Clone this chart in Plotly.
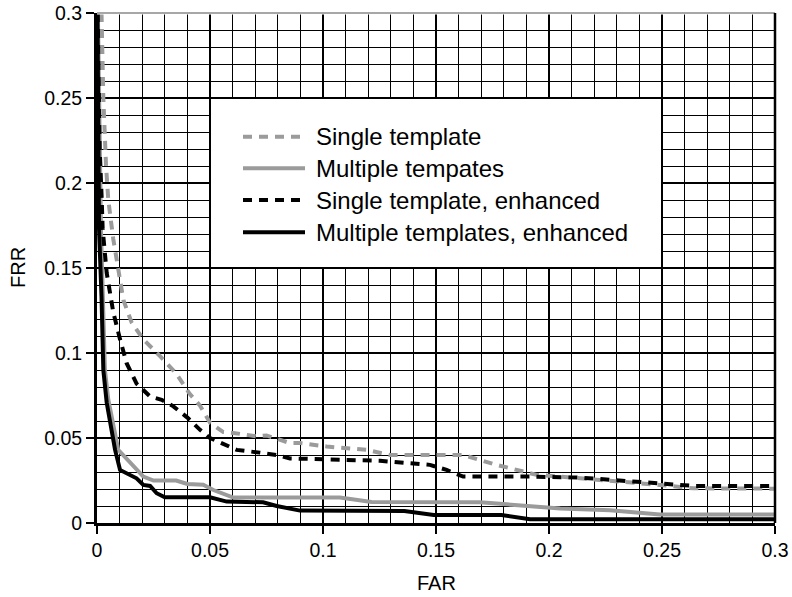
import plotly.graph_objects as go

# ---- data ----
single_x = [0.0020, 0.0028, 0.0040, 0.0050, 0.0072, 0.0094, 0.0117, 0.0153, 0.0205, 0.0280,
            0.0350, 0.0410, 0.0456, 0.0500, 0.0559, 0.0603, 0.0706, 0.0750, 0.0854, 0.0900,
            0.1016, 0.1193, 0.1296, 0.1620, 0.1768, 0.1945, 0.2049, 0.2137, 0.2490, 0.2640, 0.3000]
single_y = [0.300, 0.250, 0.210, 0.190, 0.167, 0.149, 0.131, 0.118, 0.108, 0.098,
            0.088, 0.076, 0.069, 0.059, 0.0535, 0.053, 0.051, 0.0515, 0.047, 0.047,
            0.045, 0.043, 0.040, 0.040, 0.0342, 0.0283, 0.0273, 0.0263, 0.0224, 0.0204, 0.0202]

multi_x = [0.0004, 0.0012, 0.0018, 0.0035, 0.0050, 0.0094, 0.0146, 0.0205, 0.0250, 0.0350,
           0.0400, 0.0470, 0.0515, 0.0603, 0.1075, 0.1215, 0.1695, 0.1916, 0.2050, 0.2270,
           0.2490, 0.3000]
multi_y = [0.300, 0.200, 0.170, 0.090, 0.0725, 0.043, 0.036, 0.0273, 0.025, 0.025,
           0.023, 0.0225, 0.0194, 0.015, 0.015, 0.0124, 0.0122, 0.0096, 0.0085, 0.0075,
           0.005, 0.005]

single_enh_x = [0.0003, 0.0012, 0.0021, 0.0025, 0.0043, 0.0072, 0.0102, 0.0131, 0.0175, 0.0235,
                0.0286, 0.0308, 0.0338, 0.0400, 0.0456, 0.0500, 0.0618, 0.0721, 0.0795, 0.0854,
                0.1046, 0.1252, 0.1473, 0.1547, 0.1620, 0.1916, 0.2137, 0.2270, 0.2490, 0.2640, 0.3000]
single_enh_y = [0.300, 0.220, 0.190, 0.173, 0.147, 0.124, 0.108, 0.094, 0.082, 0.0744,
                0.0725, 0.0707, 0.0686, 0.062, 0.0548, 0.050, 0.043, 0.0414, 0.040, 0.038,
                0.0371, 0.0366, 0.0342, 0.0312, 0.0273, 0.0273, 0.0267, 0.0253, 0.0234, 0.0218, 0.0218]

multi_enh_x = [0.0002, 0.0006, 0.0009, 0.0020, 0.0028, 0.0043, 0.0065, 0.0080, 0.0102, 0.0117,
               0.0146, 0.0175, 0.0205, 0.0235, 0.0264, 0.0300, 0.0500, 0.0574, 0.0735, 0.0795,
               0.0898, 0.1360, 0.1490, 0.1790, 0.1916, 0.3000]
multi_enh_y = [0.300, 0.200, 0.173, 0.133, 0.090, 0.0707, 0.0548, 0.043, 0.0312, 0.0302,
               0.0283, 0.0263, 0.0224, 0.0218, 0.0175, 0.0151, 0.0151, 0.0126, 0.0122, 0.010,
               0.0073, 0.0071, 0.0047, 0.0047, 0.0022, 0.0022]

series_names = ["Single template", "Multiple tempates",
                "Single template, enhanced", "Multiple templates, enhanced"]
series_x = [single_x, multi_x, single_enh_x, multi_enh_x]
series_y = [single_y, multi_y, single_enh_y, multi_enh_y]

x_title = "FAR"
y_title = "FRR"

# ---- styles ----
GRAY = "#9b9b9b"
styles = [dict(color=GRAY, width=4, dash="9px,7px"),
          dict(color=GRAY, width=4, dash="solid"),
          dict(color="black", width=4, dash="9px,7px"),
          dict(color="black", width=4, dash="solid")]

FONT = "Liberation Sans, Arial, Helvetica, sans-serif"
W, H = 792, 597
ML, MR, MT, MB = 97, 17, 13, 74
PW, PH = W - ML - MR, H - MT - MB

fig = go.Figure()
for name, xs, ys, st in zip(series_names, series_x, series_y, styles):
    fig.add_trace(go.Scatter(x=xs, y=ys, mode="lines", name=name, line=st,
                             showlegend=False))

axis_common = dict(
    range=[0, 0.3], tick0=0, dtick=0.05,
    showgrid=True, gridcolor="black", gridwidth=2,
    minor=dict(dtick=0.01, showgrid=True, gridcolor="black", gridwidth=1),
    showline=True, linecolor="black", linewidth=3,
    ticks="outside", ticklen=8, tickwidth=2, tickcolor="black",
    tickfont=dict(size=19.5, color="black", family=FONT),
    zeroline=False, automargin=False,
)

fig.update_layout(
    width=W, height=H,
    margin=dict(l=ML, r=MR, t=MT, b=MB, autoexpand=False),
    paper_bgcolor="white", plot_bgcolor="white",
    font=dict(family=FONT, color="black"),
    xaxis=dict(axis_common),
    yaxis=dict(axis_common),
    showlegend=False,
)

shapes = []
# top edge: thin gray instead of the black gridline
shapes.append(dict(type="line", xref="paper", yref="paper", x0=0, x1=1, y0=1, y1=1,
                   line=dict(color="white", width=3), layer="above"))
shapes.append(dict(type="line", xref="paper", yref="paper", x0=0, x1=1, y0=1, y1=1,
                   line=dict(color="#8a8a8a", width=1.5), layer="above"))
shapes.append(dict(type="line", xref="paper", yref="paper", x0=1, x1=1, y0=0, y1=1,
                   line=dict(color="black", width=2.5), layer="above"))
# legend box
shapes.append(dict(type="rect", xref="x", yref="y", x0=0.05, x1=0.25, y0=0.15, y1=0.25,
                   fillcolor="white", line=dict(color="black", width=2), layer="above"))

row_px = [136.7, 168.2, 200.0, 232.3]
sx0, sx1, tx = 243, 305, 314
annotations = []
for name, st, ry in zip(series_names, styles, row_px):
    yp = (H - MB - ry) / PH
    shapes.append(dict(type="line", xref="paper", yref="paper",
                       x0=(sx0 - ML) / PW, x1=(sx1 - ML) / PW, y0=yp, y1=yp,
                       line=st, layer="above"))
    annotations.append(dict(xref="paper", yref="paper", x=(tx - ML) / PW, y=yp,
                            xanchor="left", yanchor="middle", showarrow=False,
                            text=name, font=dict(size=24, family=FONT, color="black")))

# axis titles
annotations.append(dict(xref="paper", yref="paper", x=0.5, y=(H - MB - 583) / PH,
                        xanchor="center", yanchor="middle", showarrow=False,
                        text=x_title, font=dict(size=20, family=FONT, color="black")))
annotations.append(dict(xref="paper", yref="paper", x=(18 - ML) / PW, y=0.5,
                        xanchor="center", yanchor="middle", showarrow=False, textangle=-90,
                        text=y_title, font=dict(size=20, family=FONT, color="black")))

fig.update_layout(shapes=shapes, annotations=annotations)
fig.write_html("out.html")
